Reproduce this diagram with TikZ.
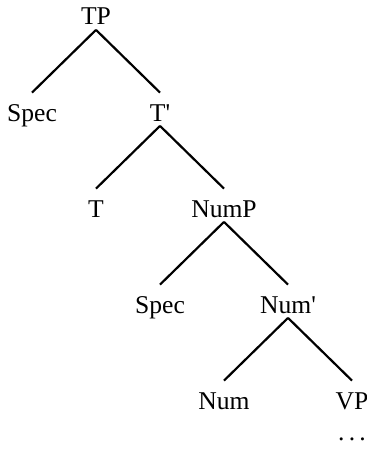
\documentclass[tikz,border=0pt]{standalone}
\usepackage{fontspec}
\setmainfont{Liberation Serif}
\usetikzlibrary{positioning}

\begin{document}
\begin{tikzpicture}[
		x=0.5pt, y=0.5pt,
		cat/.style={inner xsep=0pt, inner ysep=2.25pt, text height=11.75pt, text depth=0pt, font=\fontsize{12.8}{15}\selectfont},
		branch/.style={line width=1.1pt},
		node distance=48pt and 32pt, on grid
		]
		
		\useasboundingbox (0,0) rectangle (367,-449);
		
		\node[cat, anchor=base] (tp) at (96,-25) {TP};
		\node[cat, below left=of tp] (tpspec) {Spec};
		\node[cat, below right=of tp] (tbar) {T\textquotesingle};
		
		\node[cat, below left=of tbar] (t) {T};
		\node[cat, below right=of tbar] (nump) {NumP};
		
		\node[cat, below left=of nump] (numspec) {Spec};
		\node[cat, below right=of nump] (numbar) {Num\textquotesingle};
		
		\node[cat, below left=of numbar] (num) {Num};
		\node[cat, below right=of numbar] (vp) {VP};
		\node[cat, below=15.5pt of vp] (vpdots) {.\,.\,.};
		
		\draw[branch] (tp.south) -- (tpspec.north);
		\draw[branch] (tp.south) -- (tbar.north);
		\draw[branch] (tbar.south) -- (t.north);
		\draw[branch] (tbar.south) -- (nump.north);
		\draw[branch] (nump.south) -- (numspec.north);
		\draw[branch] (nump.south) -- (numbar.north);
		\draw[branch] (numbar.south) -- (num.north);
		\draw[branch] (numbar.south) -- (vp.north);
		
	\end{tikzpicture}
\end{document}
